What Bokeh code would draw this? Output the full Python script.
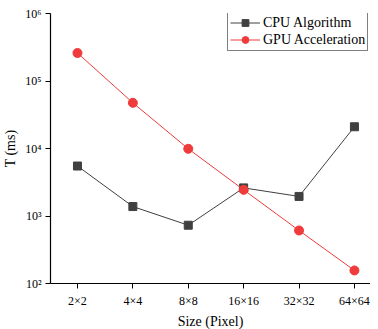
from bokeh.plotting import figure
from bokeh.models import FixedTicker, Legend, LegendItem, Range1d
from bokeh.embed import file_html
from bokeh.resources import INLINE

sizes = ["2×2", "4×4", "8×8", "16×16", "32×32", "64×64"]
cpu_ms = [5500, 1380, 730, 2610, 1950, 21000]
gpu_ms = [260000, 47500, 9900, 2440, 610, 156]
y_ticks = [100, 1000, 10000, 100000, 1000000]
y_tick_labels = ["10²", "10³", "10⁴", "10⁵", "10⁶"]

xs = list(range(len(sizes)))
FONT = "Liberation Serif"

p = figure(frame_width=320, frame_height=270, y_axis_type="log", output_backend="svg",
           toolbar_location=None, x_range=Range1d(-0.487, 5.29),
           y_range=Range1d(100, 1000000),
           min_border_left=42, min_border_top=13, min_border_right=0, min_border_bottom=40)
p.outline_line_color = None
p.xgrid.grid_line_color = None
p.ygrid.grid_line_color = None

cpu_color = "#404040"
gpu_color = "#ef3b3b"
l1 = p.line(xs, cpu_ms, line_color=cpu_color, line_width=1)
m1 = p.scatter(xs, cpu_ms, marker="square", size=8, fill_color=cpu_color, line_color=cpu_color)
l2 = p.line(xs, gpu_ms, line_color=gpu_color, line_width=1)
m2 = p.scatter(xs, gpu_ms, marker="circle", size=9, fill_color=gpu_color, line_color=gpu_color)

p.xaxis.ticker = FixedTicker(ticks=xs)
p.xaxis.major_label_overrides = {i: s for i, s in enumerate(sizes)}
p.yaxis.ticker = FixedTicker(ticks=y_ticks)
p.yaxis.major_label_overrides = {t: l for t, l in zip(y_ticks, y_tick_labels)}

for ax in (p.xaxis[0], p.yaxis[0]):
    ax.axis_line_color = "black"
    ax.axis_line_width = 1.2
    ax.major_tick_line_color = "black"
    ax.major_tick_out = 5
    ax.major_tick_in = 0
    ax.minor_tick_line_color = None
    ax.major_label_text_font = FONT
    ax.major_label_text_font_size = "12px"
    ax.major_label_text_color = "black"
    ax.axis_label_text_font = FONT
    ax.axis_label_text_font_size = "14px"
    ax.axis_label_text_font_style = "normal"
    ax.axis_label_text_color = "black"

p.xaxis.axis_label = "Size (Pixel)"
p.yaxis.axis_label = "T (ms)"
p.xaxis.major_label_standoff = 5
p.xaxis.axis_label_standoff = 3
p.yaxis.major_label_standoff = 4
p.yaxis.axis_label_standoff = 4

legend = Legend(items=[LegendItem(label="CPU Algorithm", renderers=[l1, m1]),
                       LegendItem(label="GPU Acceleration", renderers=[l2, m2])],
                location=(177, 232))
legend.border_line_color = "black"
legend.border_line_width = 1
legend.label_text_font = FONT
legend.label_text_font_size = "14px"
legend.label_text_color = "black"
legend.padding = 2
legend.spacing = 0
legend.margin = 0
legend.glyph_width = 30
legend.glyph_height = 17
legend.label_height = 17
legend.label_standoff = 3
legend.background_fill_alpha = 1
p.add_layout(legend)

open("out.html", "w").write(file_html(p, INLINE))
